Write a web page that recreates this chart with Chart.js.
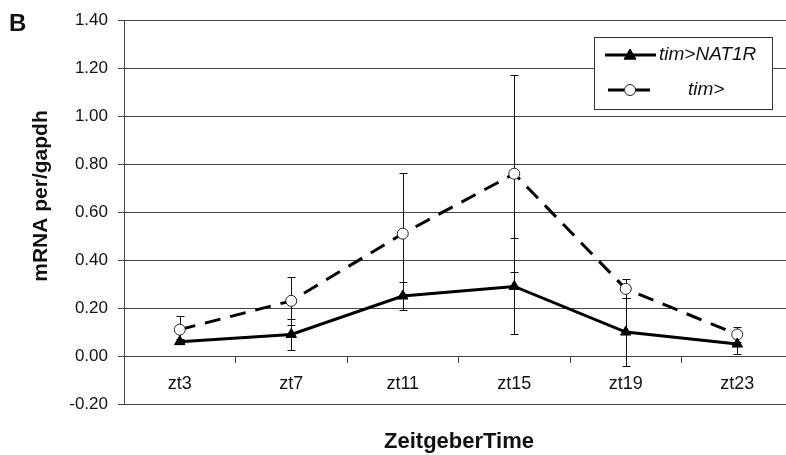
<!DOCTYPE html>
<html>
<head>
<meta charset="utf-8">
<script src="https://cdn.jsdelivr.net/npm/chart.js@4"></script>
<style>
  html, body { margin: 0; padding: 0; background: #fff; overflow: hidden; }
  #wrap { position: relative; width: 800px; height: 455px; }
</style>
</head>
<body>
<div id="wrap"><canvas id="perChart"></canvas></div>
<script>
// zeitgeber time points
const labels = ['zt3', 'zt7', 'zt11', 'zt15', 'zt19', 'zt23'];

// tim>NAT1R: mean and error
const nat1r = [0.06, 0.09, 0.25, 0.29, 0.10, 0.05];
const nat1rErr = [0.01, 0.065, 0.06, 0.20, 0.14, 0.04];

// tim> control: mean and error
const timCtrl = [0.11, 0.23, 0.51, 0.76, 0.28, 0.09];
const timCtrlErr = [0.055, 0.10, 0.255, 0.41, 0.04, 0.03];

// y axis range
const yMin = -0.20, yMax = 1.40, yStep = 0.20;

const FONT = 'Arial, "Liberation Sans", sans-serif';

// vertical error bars with small caps
const errorBars = {
    id: 'errorBars',
    beforeDatasetsDraw(chart) {
        const ctx = chart.ctx;
        const y = chart.scales.y;
        ctx.save();
        ctx.strokeStyle = '#111';
        ctx.lineWidth = 1;
        chart.data.datasets.forEach((ds, i) => {
            const meta = chart.getDatasetMeta(i);
            meta.data.forEach((pt, j) => {
                const e = ds.errors[j];
                const top = Math.round(y.getPixelForValue(ds.data[j] + e)) + 0.5;
                const bot = Math.round(y.getPixelForValue(ds.data[j] - e)) + 0.5;
                const x = Math.round(pt.x) + 0.5;
                ctx.beginPath();
                ctx.moveTo(x, top); ctx.lineTo(x, bot);
                ctx.moveTo(x - 4, top); ctx.lineTo(x + 4, top);
                ctx.moveTo(x - 4, bot); ctx.lineTo(x + 4, bot);
                ctx.stroke();
            });
        });
        ctx.restore();
    }
};

// panel letter, axis titles and boxed legend
const extras = {
    id: 'extras',
    afterDraw(chart) {
        const ctx = chart.ctx;
        ctx.save();
        ctx.fillStyle = '#111';
        ctx.font = 'bold 24px ' + FONT;
        ctx.textBaseline = 'middle';
        ctx.textAlign = 'left';
        ctx.fillText('B', 9, 24);

        ctx.font = 'bold 22px ' + FONT;
        ctx.textAlign = 'center';
        ctx.fillText('ZeitgeberTime', 459, 442);

        ctx.save();
        ctx.translate(41, 196);
        ctx.rotate(-Math.PI / 2);
        ctx.font = 'bold 21px ' + FONT;
        ctx.fillText('mRNA per/gapdh', 0, 0);
        ctx.restore();

        // legend box
        const bx = 594.5, by = 37.5, bw = 178, bh = 72;
        ctx.fillStyle = '#fff';
        ctx.fillRect(bx, by, bw, bh);
        ctx.strokeStyle = '#333';
        ctx.lineWidth = 1;
        ctx.strokeRect(bx, by, bw, bh);

        const rows = [
            { ds: chart.data.datasets[0], y: 55, tx: 659 },
            { ds: chart.data.datasets[1], y: 90, tx: 688 }
        ];
        rows.forEach(r => {
            ctx.strokeStyle = '#000';
            ctx.lineWidth = 3;
            ctx.setLineDash(r.ds.borderDash || []);
            ctx.lineDashOffset = r.ds.borderDash ? -3 : 0;
            ctx.beginPath();
            ctx.moveTo(605, r.y);
            ctx.lineTo(656, r.y);
            ctx.stroke();
            ctx.setLineDash([]);
            ctx.fillStyle = r.ds.pointBackgroundColor;
            ctx.strokeStyle = r.ds.pointBorderColor;
            ctx.lineWidth = 1;
            ctx.beginPath();
            const rad = r.ds.pointRadius;
            if (r.ds.pointStyle === 'circle') {
                ctx.arc(630, r.y, rad, 0, Math.PI * 2);
            } else {
                ctx.moveTo(630, r.y - rad);
                ctx.lineTo(630 + rad, r.y + rad * 0.7);
                ctx.lineTo(630 - rad, r.y + rad * 0.7);
                ctx.closePath();
            }
            ctx.fill();
            ctx.stroke();
            ctx.fillStyle = '#111';
            ctx.font = 'italic 19px ' + FONT;
            ctx.textAlign = 'left';
            ctx.fillText(r.ds.label, r.tx, r.y);
        });
        ctx.restore();
    }
};

new Chart(document.getElementById('perChart'), {
    type: 'line',
    data: {
        labels: labels,
        datasets: [
            {
                label: 'tim>NAT1R',
                data: nat1r,
                errors: nat1rErr,
                borderColor: '#000',
                borderWidth: 3,
                pointStyle: 'triangle',
                pointRadius: 6,
                pointBackgroundColor: '#000',
                pointBorderColor: '#000',
                pointBorderWidth: 1,
                tension: 0
            },
            {
                label: 'tim>',
                data: timCtrl,
                errors: timCtrlErr,
                borderColor: '#000',
                borderWidth: 3,
                borderDash: [16, 10],
                pointStyle: 'circle',
                pointRadius: 5.5,
                pointBackgroundColor: '#fff',
                pointBorderColor: '#222',
                pointBorderWidth: 1,
                tension: 0
            }
        ]
    },
    options: {
        responsive: true,
        maintainAspectRatio: false,
        animation: false,
        layout: { padding: { left: 0, right: 4, top: 20, bottom: 51 } },
        plugins: {
            legend: { display: false },
            tooltip: { enabled: false }
        },
        scales: {
            x: {
                type: 'category',
                position: { y: 0 },
                offset: true,
                grid: {
                    offset: true,
                    drawOnChartArea: false,
                    tickLength: 6,
                    color: '#444'
                },
                border: { color: '#444', width: 1 },
                ticks: {
                    color: '#111',
                    padding: 11,
                    font: { family: FONT, size: 18 }
                }
            },
            y: {
                min: yMin,
                max: yMax,
                afterFit(scale) { scale.width = 124; },
                afterBuildTicks(scale) {
                    const ticks = [];
                    for (let v = yMin; v <= yMax + 1e-9; v += yStep) {
                        ticks.push({ value: Math.round(v * 100) / 100 });
                    }
                    scale.ticks = ticks;
                },
                grid: {
                    color: '#444',
                    tickLength: 6,
                    lineWidth: 1
                },
                border: { color: '#444', width: 1 },
                ticks: {
                    color: '#111',
                    padding: 10,
                    font: { family: FONT, size: 17 },
                    callback: v => v.toFixed(2)
                }
            }
        }
    },
    plugins: [errorBars, extras]
});
</script>
</body>
</html>
